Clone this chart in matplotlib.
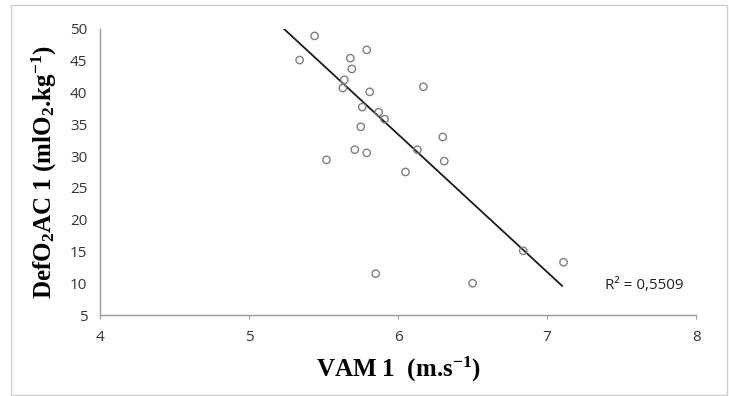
import numpy as np
import matplotlib
matplotlib.use("Agg")
import matplotlib.pyplot as plt
from matplotlib.patches import Rectangle

plt.rcParams["mathtext.fontset"] = "custom"
plt.rcParams["mathtext.rm"] = "Liberation Serif:bold"
plt.rcParams["mathtext.it"] = "Liberation Serif:bold"
plt.rcParams["mathtext.bf"] = "Liberation Serif:bold"

# values
vam = [5.44, 5.34, 5.68, 5.79, 5.69, 5.64, 5.63, 5.81, 6.17, 5.76, 5.87, 5.91,
       5.75, 6.30, 5.71, 5.79, 6.13, 6.31, 5.52, 6.05, 5.85, 6.50, 6.84, 7.11]
defo2 = [48.9, 45.1, 45.4, 46.7, 43.7, 42.0, 40.7, 40.1, 40.9, 37.7, 36.9, 35.8,
         34.6, 33.0, 31.0, 30.5, 31.0, 29.2, 29.4, 27.5, 11.5, 10.0, 15.1, 13.3]
trend_x = [5.235, 7.10]
trend_y = [50.0, 9.6]
r2_label = "R² = 0,5509"

xticks = [4, 5, 6, 7, 8]
yticks = [5, 10, 15, 20, 25, 30, 35, 40, 45, 50]

fig = plt.figure(figsize=(7.29, 3.96), dpi=100)
ax = fig.add_axes([0.137, 0.2045, 0.818, 0.7225])

# light frame round the chart area
fig.patches.append(Rectangle((11 / 729, 1 / 396), 716 / 729, 390 / 396,
                             transform=fig.transFigure, fill=False,
                             edgecolor="#cfcfcf", lw=1))

ax.scatter(vam, defo2, s=28, facecolors="none", edgecolors="#7f7f7f", linewidths=1, zorder=3)
ax.plot(trend_x, trend_y, color="#1a1a1a", lw=1.3, zorder=2)

ax.text(7.39, 9.7, r2_label, fontsize=11, va="center", ha="left",
        family="Open Sans", color="#222222")

ax.set_xlim(4, 8)
ax.set_ylim(5, 50)
ax.set_xticks(xticks)
ax.set_yticks(yticks)

for s in ["top", "right"]:
    ax.spines[s].set_visible(False)
for s in ["left", "bottom"]:
    ax.spines[s].set_color("#9a9a9a")
    ax.spines[s].set_linewidth(1)

ax.tick_params(axis="x", length=3, direction="out", color="#9a9a9a",
               labelsize=11, labelcolor="#333333", pad=8)
ax.tick_params(axis="y", length=0, labelsize=11, labelcolor="#333333", pad=9)
for lab in ax.get_xticklabels() + ax.get_yticklabels():
    lab.set_family("Open Sans")

ax.set_xlabel("VAM 1  (m.s$^{-1}$)", fontsize=18, fontweight="bold",
              family="Liberation Serif", labelpad=7)
ax.set_ylabel("DefO$_{2}$AC 1 (mlO$_{2}$.kg$^{-1}$)",
              fontsize=18, fontweight="bold", family="Liberation Serif", labelpad=8)

fig.savefig("out.png", dpi=100)
